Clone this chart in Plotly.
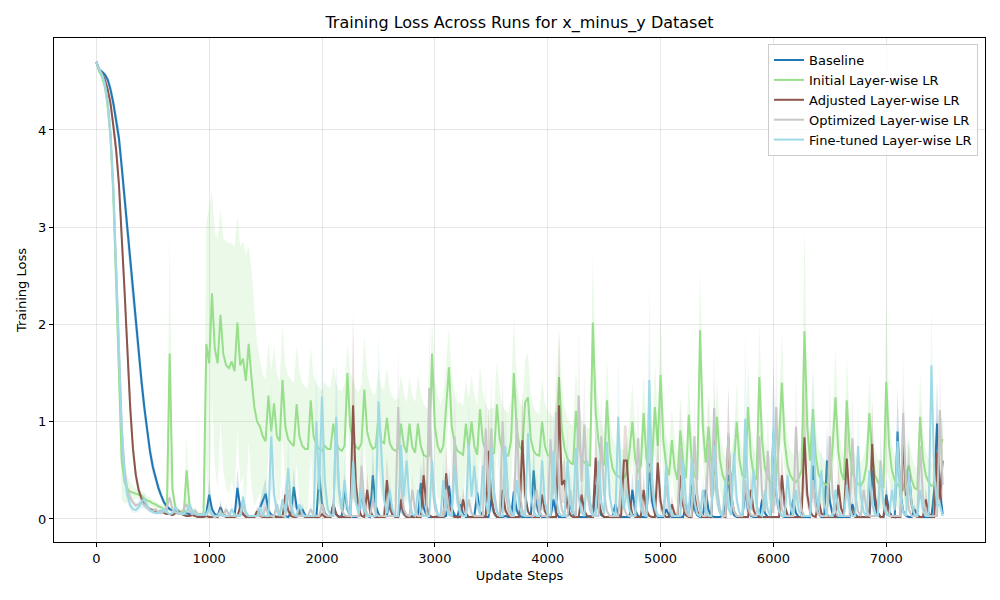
import plotly.graph_objects as go

# loss values sampled every 25 update steps (0 .. 7500), mean and std over seeds
baseline = [
    4.70, 4.62, 4.60, 4.57, 4.52, 4.42, 4.28, 4.10, 3.92, 3.62, 3.30, 2.98, 2.65, 2.35, 2.05, 1.72, 1.42, 1.15, 0.90, 0.70,
    0.54, 0.42, 0.32, 0.24, 0.17, 0.13, 0.10, 0.09, 0.08, 0.07, 0.06, 0.08, 0.06, 0.05, 0.07, 0.05, 0.04, 0.04, 0.04, 0.06,
    0.25, 0.10, 0.05, 0.03, 0.12, 0.05, 0.03, 0.02, 0.03, 0.03, 0.32, 0.12, 0.05, 0.03, 0.02, 0.03, 0.02, 0.04, 0.12, 0.20,
    0.26, 0.09, 0.04, 0.03, 0.02, 0.03, 0.02, 0.03, 0.02, 0.06, 0.33, 0.12, 0.05, 0.10, 0.04, 0.02, 0.02, 0.03, 0.02, 0.45,
    0.16, 0.06, 0.03, 0.02, 0.15, 0.05, 0.02, 0.03, 0.30, 0.10, 0.04, 0.02, 0.02, 0.03, 0.27, 0.09, 0.03, 0.02, 0.45, 0.14,
    0.05, 0.02, 0.02, 0.03, 0.22, 0.07, 0.03, 0.02, 0.15, 0.05, 0.02, 0.02, 0.03, 0.02, 0.02, 0.37, 0.12, 0.04, 0.02, 0.02,
    0.02, 0.03, 0.02, 0.02, 0.03, 0.34, 0.11, 0.04, 0.02, 0.15, 0.05, 0.02, 0.02, 0.02, 0.03, 0.27, 0.08, 0.03, 0.02, 0.02,
    0.20, 0.06, 0.02, 0.02, 0.02, 0.03, 0.02, 0.02, 0.28, 0.09, 0.03, 0.02, 0.02, 0.02, 0.02, 0.50, 0.15, 0.05, 0.02, 0.02,
    0.03, 0.02, 0.20, 0.06, 0.02, 0.02, 0.02, 0.03, 0.15, 0.05, 0.02, 0.02, 0.02, 0.02, 0.02, 0.03, 0.02, 0.35, 0.11, 0.04,
    0.02, 0.02, 0.02, 0.03, 0.15, 0.05, 0.02, 0.02, 0.02, 0.02, 0.30, 0.09, 0.03, 0.02, 0.02, 0.02, 0.57, 0.18, 0.05, 0.02,
    0.02, 0.02, 0.10, 0.04, 0.02, 0.02, 0.02, 0.02, 0.02, 0.15, 0.05, 0.35, 0.11, 0.04, 0.02, 0.02, 0.30, 0.09, 0.03, 0.02,
    0.02, 0.02, 0.03, 0.15, 0.45, 0.14, 0.04, 0.02, 0.02, 0.02, 0.30, 0.09, 0.03, 0.02, 0.02, 0.02, 0.20, 0.06, 0.02, 0.02,
    0.88, 0.26, 0.08, 0.03, 0.02, 0.02, 0.02, 0.20, 0.06, 0.02, 0.02, 0.02, 0.02, 0.02, 0.55, 0.17, 0.05, 0.02, 0.02, 0.60,
    0.18, 0.05, 0.02, 0.02, 0.02, 0.02, 0.02, 0.02, 0.15, 0.05, 0.02, 0.02, 0.02, 0.02, 0.02, 0.50, 0.15, 0.04, 0.02, 0.02,
    0.25, 0.08, 0.03, 0.02, 0.90, 0.27, 0.08, 0.03, 0.02, 0.02, 0.10, 0.04, 0.02, 0.02, 0.02, 0.02, 0.02, 0.30, 0.98, 0.30,
    0.05,
]
baseline_std = [
    0.00, 0.02, 0.02, 0.03, 0.04, 0.06, 0.08, 0.10, 0.12, 0.15, 0.17, 0.18, 0.19, 0.19, 0.18, 0.17, 0.15, 0.13, 0.11, 0.09,
    0.08, 0.06, 0.05, 0.04, 0.03, 0.03, 0.02, 0.02, 0.02, 0.02, 0.02, 0.03, 0.02, 0.02, 0.03, 0.02, 0.01, 0.01, 0.01, 0.02,
    0.15, 0.05, 0.02, 0.01, 0.07, 0.02, 0.01, 0.01, 0.01, 0.01, 0.20, 0.06, 0.02, 0.01, 0.01, 0.01, 0.01, 0.02, 0.07, 0.12,
    0.16, 0.05, 0.02, 0.01, 0.01, 0.01, 0.01, 0.01, 0.01, 0.03, 0.20, 0.06, 0.02, 0.06, 0.02, 0.01, 0.01, 0.01, 0.01, 0.28,
    0.08, 0.03, 0.01, 0.01, 0.09, 0.03, 0.01, 0.01, 0.18, 0.05, 0.02, 0.01, 0.01, 0.01, 0.16, 0.05, 0.01, 0.01, 0.27, 0.07,
    0.02, 0.01, 0.01, 0.01, 0.13, 0.04, 0.01, 0.01, 0.09, 0.03, 0.01, 0.01, 0.01, 0.01, 0.01, 0.22, 0.06, 0.02, 0.01, 0.01,
    0.01, 0.01, 0.01, 0.01, 0.01, 0.20, 0.06, 0.02, 0.01, 0.09, 0.03, 0.01, 0.01, 0.01, 0.01, 0.16, 0.04, 0.01, 0.01, 0.01,
    0.12, 0.03, 0.01, 0.01, 0.01, 0.01, 0.01, 0.01, 0.17, 0.05, 0.01, 0.01, 0.01, 0.01, 0.01, 0.30, 0.08, 0.02, 0.01, 0.01,
    0.01, 0.01, 0.12, 0.03, 0.01, 0.01, 0.01, 0.01, 0.09, 0.03, 0.01, 0.01, 0.01, 0.01, 0.01, 0.01, 0.01, 0.21, 0.06, 0.02,
    0.01, 0.01, 0.01, 0.01, 0.09, 0.03, 0.01, 0.01, 0.01, 0.01, 0.18, 0.05, 0.01, 0.01, 0.01, 0.01, 0.34, 0.09, 0.02, 0.01,
    0.01, 0.01, 0.06, 0.02, 0.01, 0.01, 0.01, 0.01, 0.01, 0.09, 0.03, 0.21, 0.06, 0.02, 0.01, 0.01, 0.18, 0.05, 0.01, 0.01,
    0.01, 0.01, 0.01, 0.09, 0.27, 0.07, 0.02, 0.01, 0.01, 0.01, 0.18, 0.05, 0.01, 0.01, 0.01, 0.01, 0.12, 0.03, 0.01, 0.01,
    0.75, 0.13, 0.04, 0.01, 0.01, 0.01, 0.01, 0.12, 0.03, 0.01, 0.01, 0.01, 0.01, 0.01, 0.33, 0.09, 0.02, 0.01, 0.01, 0.36,
    0.09, 0.02, 0.01, 0.01, 0.01, 0.01, 0.01, 0.01, 0.09, 0.03, 0.01, 0.01, 0.01, 0.01, 0.01, 0.30, 0.08, 0.02, 0.01, 0.01,
    0.15, 0.04, 0.01, 0.01, 0.45, 0.14, 0.04, 0.01, 0.01, 0.01, 0.06, 0.02, 0.01, 0.01, 0.01, 0.01, 0.01, 0.18, 0.45, 0.15,
    0.03,
]

initial = [
    4.70, 4.60, 4.55, 4.45, 4.25, 3.95, 3.35, 2.45, 1.45, 0.60, 0.38, 0.31, 0.28, 0.27, 0.26, 0.25, 0.24, 0.21, 0.19, 0.18,
    0.16, 0.15, 0.13, 0.12, 0.10, 0.09, 1.70, 0.30, 0.12, 0.08, 0.07, 0.06, 0.50, 0.15, 0.08, 0.06, 0.05, 0.05, 0.05, 1.80,
    1.60, 2.32, 1.75, 1.60, 2.10, 1.70, 1.58, 1.55, 1.62, 1.52, 2.02, 1.58, 1.65, 1.42, 1.80, 1.45, 1.15, 1.00, 0.95, 0.85,
    0.80, 1.27, 0.90, 1.19, 0.85, 0.80, 1.43, 0.95, 0.82, 0.78, 0.75, 1.18, 0.85, 0.75, 0.72, 0.72, 1.22, 0.85, 0.76, 0.72,
    0.70, 0.75, 0.72, 0.72, 0.98, 0.78, 0.72, 0.70, 0.75, 1.50, 0.95, 0.80, 0.74, 0.72, 0.78, 1.33, 0.90, 0.78, 0.72, 0.74,
    1.04, 0.80, 0.78, 1.04, 0.78, 0.72, 0.70, 0.72, 0.98, 0.76, 0.68, 0.98, 0.74, 0.68, 0.98, 0.75, 0.66, 0.64, 0.65, 1.70,
    0.95, 0.75, 0.68, 0.75, 1.12, 1.56, 0.95, 0.78, 0.70, 0.68, 0.66, 0.98, 0.72, 1.00, 0.75, 0.66, 1.13, 0.80, 0.70, 0.65,
    0.66, 0.68, 1.18, 0.82, 0.70, 0.66, 0.65, 0.80, 1.50, 0.92, 0.75, 0.70, 1.20, 1.25, 0.82, 0.70, 0.66, 0.65, 1.00, 0.75,
    0.66, 0.64, 0.62, 0.80, 1.46, 0.92, 0.72, 0.62, 0.58, 0.56, 1.11, 0.76, 0.62, 0.58, 0.56, 0.55, 2.02, 1.10, 0.80, 0.62,
    0.55, 1.22, 0.70, 0.52, 0.46, 0.44, 0.42, 0.42, 0.48, 0.70, 1.00, 0.62, 0.48, 0.55, 1.09, 0.62, 0.48, 0.60, 1.15, 0.75,
    1.48, 0.80, 0.55, 0.45, 0.81, 0.52, 0.40, 0.91, 0.58, 0.42, 1.07, 0.62, 0.45, 0.40, 1.94, 0.95, 0.58, 0.95, 0.58, 0.45,
    1.05, 0.62, 0.45, 0.38, 0.36, 0.42, 0.55, 1.00, 0.60, 0.45, 0.42, 1.15, 0.65, 0.45, 0.40, 1.46, 0.80, 0.52, 0.42, 0.38,
    0.40, 0.45, 0.80, 1.40, 0.80, 0.55, 0.45, 0.40, 0.38, 0.42, 0.50, 1.93, 0.95, 0.60, 1.13, 0.65, 0.46, 0.40, 0.36, 0.35,
    0.40, 0.75, 1.25, 0.70, 0.48, 0.40, 1.22, 0.70, 0.48, 0.40, 0.36, 0.34, 0.40, 0.55, 1.09, 0.65, 0.45, 0.38, 0.34, 0.33,
    1.41, 0.75, 0.50, 0.40, 0.35, 0.32, 0.30, 0.45, 0.55, 0.40, 0.32, 0.30, 1.05, 0.62, 0.45, 0.38, 0.34, 0.35, 0.42, 0.75,
    0.82,
]
initial_std = [
    0.02, 0.02, 0.05, 0.07, 0.13, 0.20, 0.25, 0.35, 0.45, 0.40, 0.22, 0.14, 0.10, 0.07, 0.05, 0.05, 0.05, 0.05, 0.05, 0.04,
    0.04, 0.03, 0.03, 0.03, 0.03, 0.03, 1.25, 0.15, 0.06, 0.04, 0.03, 0.03, 0.37, 0.10, 0.04, 0.03, 0.03, 0.03, 0.03, 1.25,
    1.60, 1.05, 1.20, 1.28, 1.08, 1.20, 1.27, 1.29, 1.22, 1.28, 1.10, 1.22, 1.20, 1.30, 1.00, 1.12, 1.02, 0.80, 0.68, 0.64,
    0.63, 0.55, 0.62, 0.60, 0.64, 0.62, 0.58, 0.63, 0.65, 0.66, 0.64, 0.60, 0.66, 0.65, 0.64, 0.62, 0.55, 0.62, 0.64, 0.63,
    0.62, 0.66, 0.64, 0.63, 0.60, 0.62, 0.60, 0.62, 0.64, 0.30, 0.55, 0.62, 0.60, 0.58, 0.60, 0.55, 0.60, 0.58, 0.56, 0.55,
    0.50, 0.56, 0.55, 0.52, 0.55, 0.54, 0.52, 0.53, 0.50, 0.54, 0.52, 0.48, 0.53, 0.52, 0.50, 0.55, 0.52, 0.50, 0.50, 0.38,
    0.50, 0.52, 0.50, 0.52, 0.48, 0.40, 0.52, 0.50, 0.50, 0.52, 0.50, 0.45, 0.52, 0.48, 0.52, 0.50, 0.45, 0.50, 0.48, 0.47,
    0.48, 0.46, 0.45, 0.48, 0.46, 0.45, 0.44, 0.45, 0.58, 0.45, 0.46, 0.45, 0.44, 0.46, 0.46, 0.45, 0.44, 0.43, 0.45, 0.44,
    0.45, 0.44, 0.42, 0.44, 0.50, 0.44, 0.42, 0.42, 0.40, 0.40, 0.42, 0.40, 0.40, 0.38, 0.38, 0.38, 0.69, 0.45, 0.38, 0.36,
    0.34, 0.42, 0.34, 0.32, 0.30, 0.30, 0.30, 0.30, 0.30, 0.32, 0.40, 0.32, 0.30, 0.32, 0.40, 0.32, 0.30, 0.32, 0.45, 0.32,
    0.60, 0.34, 0.30, 0.30, 0.32, 0.30, 0.28, 0.35, 0.30, 0.28, 0.40, 0.30, 0.28, 0.28, 0.65, 0.35, 0.30, 0.34, 0.30, 0.28,
    0.40, 0.30, 0.28, 0.26, 0.26, 0.27, 0.28, 0.40, 0.28, 0.27, 0.26, 0.45, 0.30, 0.27, 0.26, 0.55, 0.32, 0.28, 0.26, 0.25,
    0.26, 0.27, 0.30, 0.55, 0.30, 0.28, 0.27, 0.26, 0.25, 0.26, 0.28, 1.08, 0.40, 0.30, 0.40, 0.30, 0.27, 0.26, 0.25, 0.24,
    0.25, 0.30, 0.50, 0.30, 0.27, 0.25, 0.45, 0.30, 0.27, 0.25, 0.24, 0.24, 0.25, 0.28, 0.40, 0.30, 0.26, 0.25, 0.24, 0.23,
    0.91, 0.35, 0.28, 0.25, 0.24, 0.23, 0.22, 0.28, 0.30, 0.25, 0.23, 0.22, 0.45, 0.30, 0.26, 0.24, 0.23, 0.24, 0.26, 0.30,
    0.20,
]

adjusted = [
    4.70, 4.62, 4.58, 4.52, 4.42, 4.28, 4.05, 3.80, 3.45, 2.95, 2.35, 1.75, 1.15, 0.72, 0.45, 0.30, 0.21, 0.15, 0.12, 0.10,
    0.09, 0.08, 0.07, 0.08, 0.06, 0.05, 0.05, 0.04, 0.06, 0.08, 0.06, 0.04, 0.03, 0.03, 0.04, 0.03, 0.02, 0.02, 0.02, 0.03,
    0.02, 0.02, 0.03, 0.02, 0.10, 0.04, 0.02, 0.02, 0.02, 0.02, 0.03, 0.12, 0.05, 0.02, 0.02, 0.02, 0.02, 0.08, 0.03, 0.02,
    0.02, 0.02, 0.02, 0.03, 0.02, 0.02, 0.02, 0.25, 0.09, 0.03, 0.02, 0.02, 0.10, 0.04, 0.02, 0.02, 0.02, 0.02, 0.02, 0.02,
    0.05, 0.02, 0.02, 0.02, 0.15, 0.05, 0.02, 0.02, 0.02, 0.02, 0.02, 1.17, 0.35, 0.10, 0.03, 0.02, 0.30, 0.09, 0.03, 0.02,
    0.02, 0.02, 0.02, 0.40, 0.12, 0.04, 0.02, 0.02, 0.20, 0.06, 0.02, 0.02, 0.02, 0.02, 0.02, 0.02, 0.45, 0.14, 0.04, 0.02,
    0.02, 0.02, 0.02, 0.02, 0.47, 0.14, 0.04, 0.02, 0.02, 0.02, 0.20, 0.06, 0.02, 0.02, 0.02, 0.02, 0.02, 0.02, 0.02, 0.70,
    0.22, 0.07, 0.02, 0.02, 0.30, 0.09, 0.03, 0.02, 0.02, 0.02, 0.02, 0.81, 0.25, 0.08, 0.03, 0.02, 0.02, 0.02, 0.25, 0.08,
    0.03, 0.02, 0.02, 0.02, 1.17, 0.35, 0.40, 0.12, 0.04, 0.02, 0.02, 0.02, 0.25, 0.08, 0.03, 0.02, 0.02, 0.63, 0.20, 0.06,
    0.02, 0.02, 0.02, 0.02, 0.02, 0.02, 0.02, 0.60, 0.60, 0.18, 0.05, 0.02, 0.02, 0.02, 0.30, 0.09, 0.03, 0.02, 0.02, 0.58,
    0.18, 0.05, 0.02, 0.02, 0.15, 0.05, 0.02, 0.45, 0.14, 0.04, 0.02, 0.02, 0.25, 0.08, 0.03, 0.02, 0.02, 0.02, 0.02, 0.81,
    0.25, 0.08, 0.03, 0.02, 0.84, 0.25, 0.08, 0.03, 0.02, 0.02, 0.02, 0.02, 0.30, 0.09, 0.03, 0.02, 0.02, 0.02, 0.02, 0.02,
    0.02, 0.02, 0.02, 0.45, 0.14, 0.04, 0.02, 0.02, 0.02, 0.02, 0.02, 0.84, 0.25, 0.08, 0.03, 0.02, 0.20, 0.06, 0.02, 0.02,
    0.02, 0.02, 0.02, 0.35, 0.11, 0.04, 0.62, 0.19, 0.06, 0.02, 0.02, 0.02, 0.02, 0.02, 0.02, 0.77, 0.23, 0.07, 0.02, 0.02,
    0.20, 0.06, 0.02, 0.02, 0.02, 0.02, 0.81, 0.24, 0.50, 0.15, 0.04, 0.02, 0.02, 0.02, 0.20, 0.06, 0.02, 0.02, 0.68, 0.20,
    0.60,
]
adjusted_std = [
    0.00, 0.02, 0.02, 0.03, 0.04, 0.06, 0.09, 0.12, 0.15, 0.18, 0.20, 0.20, 0.17, 0.12, 0.08, 0.05, 0.04, 0.03, 0.02, 0.02,
    0.02, 0.02, 0.02, 0.02, 0.01, 0.01, 0.01, 0.01, 0.02, 0.03, 0.02, 0.01, 0.01, 0.01, 0.01, 0.01, 0.01, 0.01, 0.01, 0.01,
    0.01, 0.01, 0.01, 0.01, 0.06, 0.02, 0.01, 0.01, 0.01, 0.01, 0.01, 0.07, 0.02, 0.01, 0.01, 0.01, 0.01, 0.05, 0.01, 0.01,
    0.01, 0.01, 0.01, 0.01, 0.01, 0.01, 0.01, 0.15, 0.05, 0.01, 0.01, 0.01, 0.06, 0.02, 0.01, 0.01, 0.01, 0.01, 0.01, 0.01,
    0.03, 0.01, 0.01, 0.01, 0.09, 0.03, 0.01, 0.01, 0.01, 0.01, 0.01, 0.95, 0.20, 0.05, 0.01, 0.01, 0.18, 0.05, 0.01, 0.01,
    0.01, 0.01, 0.01, 0.25, 0.06, 0.02, 0.01, 0.01, 0.12, 0.03, 0.01, 0.01, 0.01, 0.01, 0.01, 0.01, 0.28, 0.07, 0.02, 0.01,
    0.01, 0.01, 0.01, 0.01, 0.28, 0.07, 0.02, 0.01, 0.01, 0.01, 0.12, 0.03, 0.01, 0.01, 0.01, 0.01, 0.01, 0.01, 0.01, 0.45,
    0.11, 0.04, 0.01, 0.01, 0.18, 0.05, 0.01, 0.01, 0.01, 0.01, 0.01, 0.50, 0.13, 0.04, 0.01, 0.01, 0.01, 0.01, 0.15, 0.04,
    0.01, 0.01, 0.01, 0.01, 0.78, 0.18, 0.24, 0.06, 0.02, 0.01, 0.01, 0.01, 0.15, 0.04, 0.01, 0.01, 0.01, 0.38, 0.10, 0.03,
    0.01, 0.01, 0.01, 0.01, 0.01, 0.01, 0.01, 0.36, 0.36, 0.09, 0.02, 0.01, 0.01, 0.01, 0.18, 0.05, 0.01, 0.01, 0.01, 0.35,
    0.09, 0.02, 0.01, 0.01, 0.09, 0.03, 0.01, 0.28, 0.07, 0.02, 0.01, 0.01, 0.15, 0.04, 0.01, 0.01, 0.01, 0.01, 0.01, 0.50,
    0.13, 0.04, 0.01, 0.01, 0.50, 0.13, 0.04, 0.01, 0.01, 0.01, 0.01, 0.01, 0.18, 0.05, 0.01, 0.01, 0.01, 0.01, 0.01, 0.01,
    0.01, 0.01, 0.01, 0.28, 0.07, 0.02, 0.01, 0.01, 0.01, 0.01, 0.01, 0.52, 0.13, 0.04, 0.01, 0.01, 0.12, 0.03, 0.01, 0.01,
    0.01, 0.01, 0.01, 0.21, 0.06, 0.02, 0.38, 0.10, 0.03, 0.01, 0.01, 0.01, 0.01, 0.01, 0.01, 0.46, 0.12, 0.04, 0.01, 0.01,
    0.12, 0.03, 0.01, 0.01, 0.01, 0.01, 0.48, 0.12, 0.30, 0.08, 0.02, 0.01, 0.01, 0.01, 0.12, 0.03, 0.01, 0.01, 0.40, 0.10,
    0.40,
]

optimized = [
    4.70, 4.62, 4.57, 4.48, 4.30, 3.98, 3.45, 2.65, 1.75, 0.95, 0.50, 0.30, 0.22, 0.17, 0.14, 0.15, 0.17, 0.14, 0.11, 0.09,
    0.08, 0.10, 0.07, 0.06, 0.08, 0.12, 0.22, 0.10, 0.07, 0.05, 0.06, 0.10, 0.15, 0.08, 0.05, 0.09, 0.05, 0.04, 0.04, 0.05,
    0.10, 0.04, 0.03, 0.03, 0.04, 0.03, 0.10, 0.04, 0.03, 0.03, 0.04, 0.03, 0.15, 0.05, 0.03, 0.03, 0.03, 0.03, 0.04, 0.03,
    0.12, 0.04, 0.03, 0.03, 0.15, 0.05, 0.03, 0.03, 0.30, 0.09, 0.04, 0.03, 0.03, 0.03, 0.03, 0.03, 0.10, 0.04, 0.03, 0.03,
    0.15, 0.05, 0.03, 0.03, 0.03, 1.00, 0.30, 0.09, 0.04, 0.03, 0.03, 0.03, 0.03, 0.03, 0.55, 0.17, 0.05, 0.03, 0.20, 0.06,
    0.03, 0.03, 0.03, 0.03, 0.03, 0.03, 0.03, 1.15, 0.35, 0.10, 0.04, 0.03, 0.30, 0.09, 0.03, 0.03, 0.03, 0.03, 1.35, 0.40,
    0.12, 0.04, 0.03, 0.03, 0.30, 0.09, 0.03, 0.85, 0.26, 0.08, 0.03, 0.03, 0.20, 0.06, 0.03, 0.03, 0.03, 0.03, 0.93, 0.28,
    0.93, 0.28, 0.08, 0.03, 1.00, 0.30, 0.09, 0.03, 0.03, 1.03, 0.31, 0.09, 0.03, 0.03, 0.03, 0.03, 0.30, 0.09, 0.03, 0.03,
    0.03, 0.82, 0.25, 1.10, 0.33, 0.10, 0.03, 0.03, 0.30, 0.09, 0.03, 1.27, 0.38, 0.97, 0.29, 0.09, 0.03, 0.03, 0.03, 0.85,
    0.26, 0.08, 0.03, 0.03, 0.03, 0.03, 0.40, 0.12, 0.04, 0.03, 0.03, 0.03, 0.83, 0.25, 0.08, 0.03, 1.20, 0.36, 0.11, 0.03,
    0.03, 0.03, 0.35, 0.11, 0.03, 0.03, 0.03, 0.73, 0.22, 0.07, 0.03, 0.03, 0.85, 0.26, 0.08, 0.03, 0.03, 0.78, 0.23, 1.14,
    0.34, 0.10, 0.03, 0.03, 0.88, 0.26, 0.08, 0.03, 0.03, 0.03, 0.40, 0.12, 0.04, 0.03, 0.03, 0.85, 0.26, 0.08, 0.70, 0.21,
    0.06, 1.15, 0.35, 0.10, 0.03, 0.03, 0.03, 0.03, 0.95, 0.29, 0.09, 0.03, 0.03, 0.03, 0.40, 0.12, 0.04, 0.03, 0.03, 0.03,
    0.85, 0.26, 0.08, 0.03, 0.03, 0.03, 0.03, 0.03, 0.83, 0.25, 0.08, 0.03, 0.30, 0.09, 0.03, 0.03, 0.03, 0.03, 0.60, 0.18,
    0.05, 0.03, 0.03, 0.03, 0.03, 0.03, 1.09, 0.33, 0.10, 0.03, 0.03, 0.03, 0.75, 0.23, 0.07, 0.03, 0.03, 0.03, 0.03, 1.12,
    0.35,
]
optimized_std = [
    0.00, 0.02, 0.03, 0.04, 0.06, 0.10, 0.15, 0.22, 0.28, 0.25, 0.15, 0.08, 0.05, 0.04, 0.03, 0.04, 0.05, 0.04, 0.03, 0.02,
    0.02, 0.03, 0.02, 0.02, 0.02, 0.04, 0.08, 0.03, 0.02, 0.01, 0.02, 0.03, 0.05, 0.02, 0.01, 0.03, 0.01, 0.01, 0.01, 0.01,
    0.06, 0.02, 0.01, 0.01, 0.02, 0.01, 0.06, 0.02, 0.01, 0.01, 0.02, 0.01, 0.09, 0.02, 0.01, 0.01, 0.01, 0.01, 0.02, 0.01,
    0.07, 0.02, 0.01, 0.01, 0.09, 0.02, 0.01, 0.01, 0.18, 0.05, 0.02, 0.01, 0.01, 0.01, 0.01, 0.01, 0.06, 0.02, 0.01, 0.01,
    0.09, 0.02, 0.01, 0.01, 0.01, 0.55, 0.15, 0.04, 0.02, 0.01, 0.01, 0.01, 0.01, 0.01, 0.33, 0.09, 0.02, 0.01, 0.12, 0.03,
    0.01, 0.01, 0.01, 0.01, 0.01, 0.01, 0.01, 0.60, 0.18, 0.05, 0.02, 0.01, 0.18, 0.05, 0.01, 0.01, 0.01, 0.01, 0.65, 0.20,
    0.06, 0.02, 0.01, 0.01, 0.18, 0.05, 0.01, 0.50, 0.13, 0.04, 0.01, 0.01, 0.12, 0.03, 0.01, 0.01, 0.01, 0.01, 0.55, 0.14,
    0.55, 0.14, 0.04, 0.01, 0.58, 0.15, 0.04, 0.01, 0.01, 0.60, 0.16, 0.04, 0.01, 0.01, 0.01, 0.01, 0.18, 0.05, 0.01, 0.01,
    0.01, 0.48, 0.13, 0.62, 0.17, 0.05, 0.01, 0.01, 0.18, 0.05, 0.01, 0.70, 0.19, 0.55, 0.15, 0.04, 0.01, 0.01, 0.01, 0.50,
    0.13, 0.04, 0.01, 0.01, 0.01, 0.01, 0.24, 0.06, 0.02, 0.01, 0.01, 0.01, 0.50, 0.13, 0.04, 0.01, 0.65, 0.18, 0.05, 0.01,
    0.01, 0.01, 0.21, 0.06, 0.01, 0.01, 0.01, 0.44, 0.11, 0.03, 0.01, 0.01, 0.50, 0.13, 0.04, 0.01, 0.01, 0.46, 0.12, 0.60,
    0.17, 0.05, 0.01, 0.01, 0.52, 0.13, 0.04, 0.01, 0.01, 0.01, 0.24, 0.06, 0.02, 0.01, 0.01, 0.50, 0.13, 0.04, 0.42, 0.11,
    0.03, 0.62, 0.18, 0.05, 0.01, 0.01, 0.01, 0.01, 0.55, 0.15, 0.04, 0.01, 0.01, 0.01, 0.24, 0.06, 0.02, 0.01, 0.01, 0.01,
    0.60, 0.13, 0.04, 0.01, 0.01, 0.01, 0.01, 0.01, 0.50, 0.13, 0.04, 0.01, 0.18, 0.05, 0.01, 0.01, 0.01, 0.01, 0.36, 0.09,
    0.02, 0.01, 0.01, 0.01, 0.01, 0.01, 0.60, 0.17, 0.05, 0.01, 0.01, 0.01, 0.45, 0.12, 0.04, 0.01, 0.01, 0.01, 0.01, 0.50,
    0.20,
]

finetuned = [
    4.70, 4.62, 4.57, 4.47, 4.28, 3.95, 3.42, 2.62, 1.72, 0.92, 0.45, 0.25, 0.14, 0.10, 0.09, 0.12, 0.18, 0.20, 0.14, 0.09,
    0.07, 0.06, 0.06, 0.08, 0.10, 0.07, 0.05, 0.06, 0.12, 0.07, 0.05, 0.05, 0.08, 0.14, 0.08, 0.05, 0.04, 0.04, 0.06, 0.04,
    0.12, 0.04, 0.03, 0.03, 0.08, 0.03, 0.03, 0.03, 0.10, 0.04, 0.03, 0.03, 0.23, 0.07, 0.03, 0.03, 0.03, 0.03, 0.12, 0.04,
    0.03, 0.03, 0.85, 0.26, 0.08, 0.03, 0.20, 0.06, 0.52, 0.16, 0.05, 0.03, 0.15, 0.05, 0.03, 0.03, 0.03, 0.03, 1.00, 0.30,
    1.26, 0.38, 0.11, 0.04, 0.03, 1.05, 0.32, 0.10, 0.40, 0.12, 0.04, 0.59, 0.18, 0.05, 0.30, 0.09, 0.03, 0.03, 0.03, 0.03,
    1.21, 0.65, 0.20, 0.06, 0.30, 0.09, 0.03, 0.03, 0.76, 0.23, 0.60, 0.18, 0.05, 0.03, 0.30, 0.09, 0.03, 0.03, 0.03, 0.60,
    0.18, 0.05, 0.03, 0.40, 0.12, 0.04, 0.03, 0.55, 0.17, 0.05, 0.03, 0.03, 0.77, 0.23, 0.55, 0.17, 0.05, 0.55, 0.17, 0.05,
    0.73, 0.22, 0.07, 0.03, 0.03, 0.75, 0.23, 0.07, 0.03, 0.40, 0.12, 0.04, 0.03, 0.88, 0.26, 0.08, 0.03, 0.03, 0.60, 0.18,
    0.05, 0.03, 0.70, 0.21, 0.06, 0.03, 0.03, 0.60, 0.18, 0.05, 0.73, 0.22, 0.07, 0.03, 0.60, 0.18, 0.05, 0.03, 0.60, 0.18,
    0.05, 0.79, 0.24, 0.07, 0.03, 1.05, 0.32, 0.10, 0.30, 0.09, 0.03, 0.03, 0.40, 0.12, 0.04, 0.03, 1.43, 0.43, 0.13, 0.04,
    0.03, 0.03, 0.55, 0.17, 0.05, 0.03, 0.03, 0.03, 0.60, 0.18, 0.05, 0.60, 0.18, 0.05, 0.03, 0.30, 0.09, 0.03, 0.03, 0.76,
    0.23, 0.07, 0.03, 0.40, 0.12, 0.04, 0.68, 0.20, 0.06, 0.03, 1.03, 0.31, 0.09, 0.50, 0.15, 0.05, 0.03, 0.30, 0.09, 0.03,
    0.93, 0.28, 0.08, 0.03, 0.03, 0.45, 0.14, 0.04, 0.30, 0.09, 0.03, 0.03, 0.03, 0.03, 1.00, 0.30, 0.09, 0.50, 0.15, 0.05,
    0.03, 0.03, 0.30, 0.09, 0.03, 0.03, 0.35, 0.11, 0.03, 0.03, 0.75, 0.23, 0.07, 0.03, 0.50, 0.15, 0.05, 0.03, 0.52, 0.16,
    0.05, 0.03, 0.30, 0.09, 0.80, 0.24, 0.07, 0.03, 0.50, 0.15, 0.05, 0.03, 0.30, 0.09, 0.03, 0.03, 1.58, 0.47, 0.14, 0.15,
    0.03,
]
finetuned_std = [
    0.00, 0.02, 0.03, 0.04, 0.06, 0.10, 0.15, 0.22, 0.28, 0.25, 0.15, 0.08, 0.05, 0.04, 0.03, 0.05, 0.07, 0.08, 0.05, 0.03,
    0.02, 0.02, 0.02, 0.03, 0.04, 0.02, 0.01, 0.02, 0.05, 0.02, 0.01, 0.01, 0.03, 0.06, 0.03, 0.01, 0.01, 0.01, 0.02, 0.01,
    0.07, 0.02, 0.01, 0.01, 0.05, 0.01, 0.01, 0.01, 0.06, 0.02, 0.01, 0.01, 0.14, 0.04, 0.01, 0.01, 0.01, 0.01, 0.07, 0.02,
    0.01, 0.01, 0.55, 0.13, 0.04, 0.01, 0.12, 0.03, 0.32, 0.08, 0.02, 0.01, 0.09, 0.02, 0.01, 0.01, 0.01, 0.01, 0.60, 0.15,
    0.95, 0.20, 0.05, 0.02, 0.01, 0.62, 0.16, 0.05, 0.24, 0.06, 0.02, 0.36, 0.09, 0.02, 0.18, 0.05, 0.01, 0.01, 0.01, 0.01,
    0.70, 0.38, 0.10, 0.03, 0.18, 0.05, 0.01, 0.01, 0.46, 0.12, 0.36, 0.09, 0.02, 0.01, 0.18, 0.05, 0.01, 0.01, 0.01, 0.36,
    0.09, 0.02, 0.01, 0.24, 0.06, 0.02, 0.01, 0.33, 0.09, 0.02, 0.01, 0.01, 0.46, 0.12, 0.33, 0.09, 0.02, 0.33, 0.09, 0.02,
    0.44, 0.11, 0.03, 0.01, 0.01, 0.45, 0.12, 0.03, 0.01, 0.24, 0.06, 0.02, 0.01, 0.55, 0.13, 0.04, 0.01, 0.01, 0.36, 0.09,
    0.02, 0.01, 0.42, 0.11, 0.03, 0.01, 0.01, 0.36, 0.09, 0.02, 0.44, 0.11, 0.03, 0.01, 0.36, 0.09, 0.02, 0.01, 0.36, 0.09,
    0.02, 0.47, 0.12, 0.03, 0.01, 0.63, 0.16, 0.05, 0.18, 0.05, 0.01, 0.01, 0.24, 0.06, 0.02, 0.01, 1.00, 0.22, 0.06, 0.02,
    0.01, 0.01, 0.33, 0.09, 0.02, 0.01, 0.01, 0.01, 0.36, 0.09, 0.02, 0.36, 0.09, 0.02, 0.01, 0.18, 0.05, 0.01, 0.01, 0.46,
    0.12, 0.03, 0.01, 0.24, 0.06, 0.02, 0.41, 0.10, 0.03, 0.01, 0.90, 0.16, 0.05, 0.30, 0.08, 0.02, 0.01, 0.18, 0.05, 0.01,
    0.56, 0.14, 0.04, 0.01, 0.01, 0.27, 0.07, 0.02, 0.18, 0.05, 0.01, 0.01, 0.01, 0.01, 0.60, 0.15, 0.05, 0.30, 0.08, 0.02,
    0.01, 0.01, 0.18, 0.05, 0.01, 0.01, 0.21, 0.06, 0.01, 0.01, 0.45, 0.12, 0.03, 0.01, 0.30, 0.08, 0.02, 0.01, 0.31, 0.08,
    0.02, 0.01, 0.18, 0.05, 0.48, 0.12, 0.03, 0.01, 0.30, 0.08, 0.02, 0.01, 0.18, 0.05, 0.01, 0.01, 0.62, 0.24, 0.07, 0.08,
    0.01,
]

runs = [
    ("Baseline", baseline, baseline_std, "#1f77b4", "rgba(31,119,180,0.2)"),
    ("Initial Layer-wise LR", initial, initial_std, "#98df8a", "rgba(152,223,138,0.2)"),
    ("Adjusted Layer-wise LR", adjusted, adjusted_std, "#8c564b", "rgba(140,86,75,0.2)"),
    ("Optimized Layer-wise LR", optimized, optimized_std, "#c7c7c7", "rgba(199,199,199,0.2)"),
    ("Fine-tuned Layer-wise LR", finetuned, finetuned_std, "#9edae5", "rgba(158,218,229,0.2)"),
]

for name, ys, sd, _, _ in runs:
    assert len(ys) == 301 and len(sd) == 301, (name, len(ys), len(sd))

steps = list(range(0, 7501, 25))

fig = go.Figure()
for name, ys, sd, color, band in runs:
    fig.add_trace(go.Scatter(x=steps, y=ys, mode="lines", name=name,
                             line=dict(color=color, width=2)))
    lo = [m - s for m, s in zip(ys, sd)]
    hi = [m + s for m, s in zip(ys, sd)]
    fig.add_trace(go.Scatter(x=steps, y=lo, mode="lines", line=dict(width=0),
                             showlegend=False, hoverinfo="skip"))
    fig.add_trace(go.Scatter(x=steps, y=hi, mode="lines", line=dict(width=0),
                             fill="tonexty", fillcolor=band,
                             showlegend=False, hoverinfo="skip"))

axis_style = dict(showline=True, linecolor="black", linewidth=1, mirror=True,
                  ticks="outside", ticklen=4, tickcolor="black", automargin=False,
                  showgrid=True, gridcolor="rgba(176,176,176,0.3)", gridwidth=1,
                  zeroline=False, tickfont=dict(size=13, color="black"))

fig.update_layout(
    width=1000, height=600,
    font=dict(family="DejaVu Sans", color="black"),
    paper_bgcolor="white", plot_bgcolor="white",
    margin=dict(l=54, r=15, t=38, b=58, autoexpand=False),
    title=dict(text="Training Loss Across Runs for x_minus_y Dataset",
               xref="paper", x=0.5, xanchor="center",
               yref="container", y=0.963, yanchor="middle",
               font=dict(size=16)),
    xaxis=dict(axis_style, range=[-375, 7875], tickvals=list(range(0, 7001, 1000)),
               title=dict(text="Update Steps", font=dict(size=13), standoff=6)),
    yaxis=dict(axis_style, range=[-0.237, 4.946], tickvals=[0, 1, 2, 3, 4],
               title=dict(text="Training Loss", font=dict(size=13), standoff=8)),
    legend=dict(x=0.9925, y=0.988, xanchor="right", yanchor="top",
                traceorder="normal",
                bgcolor="rgba(255,255,255,0.8)", bordercolor="#cccccc", borderwidth=1,
                font=dict(size=13), tracegroupgap=0),
    showlegend=True,
)

fig.write_html("out.html", config={"displayModeBar": False},
               post_script="document.body.style.margin='0';")
